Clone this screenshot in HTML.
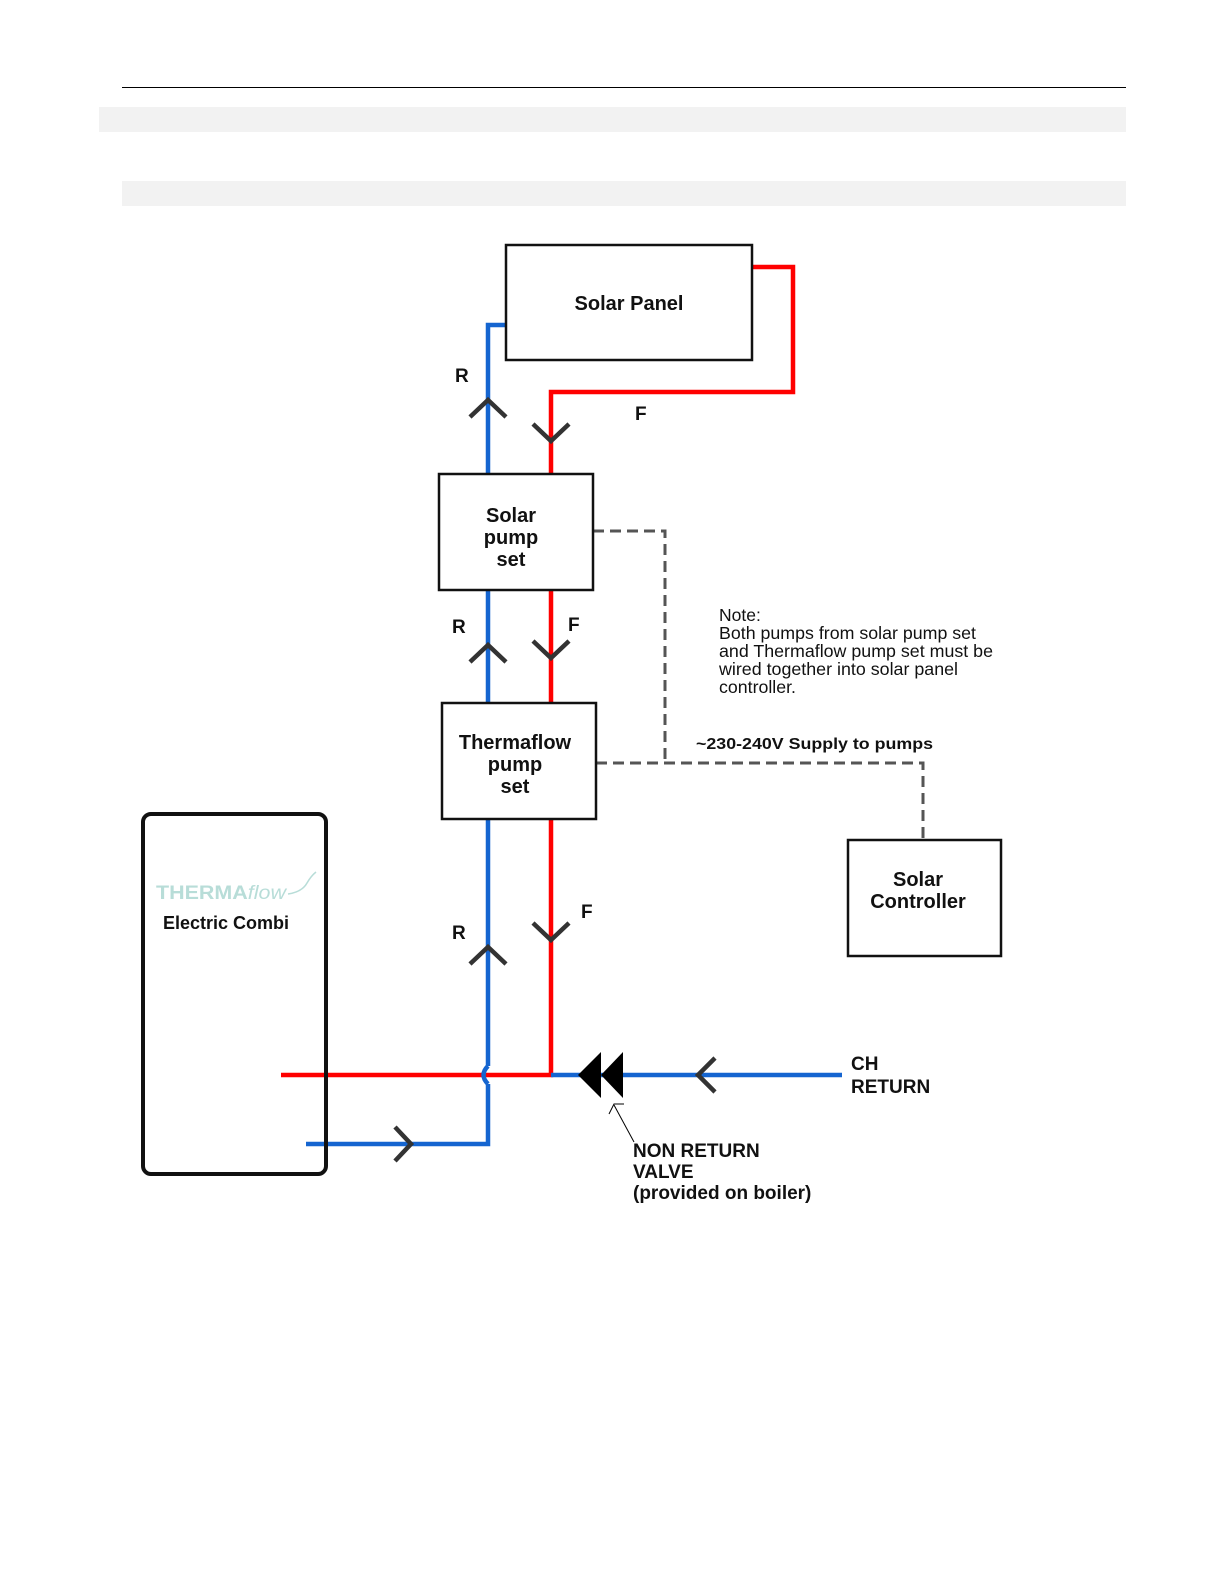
<!DOCTYPE html>
<html><head><meta charset="utf-8"><style>
html,body{margin:0;padding:0;background:#fff;overflow:hidden;width:1224px;height:1584px;}
svg{display:block;font-family:"Liberation Sans",sans-serif;}
</style></head><body>
<svg width="1224" height="1584" viewBox="0 0 1224 1584" xmlns="http://www.w3.org/2000/svg">
<rect x="122" y="87" width="1004" height="1" fill="#000"/>
<rect x="99" y="107" width="1027" height="25" fill="#f2f2f2"/>
<rect x="122" y="181" width="1004" height="25" fill="#f2f2f2"/>

<g fill="none" stroke-width="4.5">
<polyline points="752,267 793,267 793,392 551,392 551,474" stroke="#ff0000"/>
<polyline points="506,325 488,325 488,474" stroke="#1565d0"/>
<line x1="551" y1="590" x2="551" y2="703" stroke="#ff0000"/>
<line x1="488" y1="590" x2="488" y2="703" stroke="#1565d0"/>
<polyline points="551,819 551,1075 281,1075" stroke="#ff0000"/>
<polyline points="488,819 488,1066" stroke="#1565d0"/>
<path d="M488,1066 Q479,1075 488,1084" stroke="#1565d0"/>
<polyline points="488,1084 488,1144 306,1144" stroke="#1565d0"/>
<line x1="551" y1="1075" x2="842" y2="1075" stroke="#1565d0"/>
</g>

<g fill="none" stroke="#333" stroke-width="4.5">
<polyline points="470,417 488,400 506,417"/>
<polyline points="533,424 551,441 569,424"/>
<polyline points="470,662 488,645 506,662"/>
<polyline points="533,641 551,658 569,641"/>
<polyline points="470,964 488,947 506,964"/>
<polyline points="533,923 551,940 569,923"/>
<polyline points="715,1058 698,1075 715,1092"/>
<polyline points="395,1127 411,1144 395,1161"/>
</g>

<polygon points="578,1075 601,1052 601,1098" fill="#000"/>
<polygon points="601,1075 623,1052 623,1098" fill="#000"/>
<line x1="634" y1="1142" x2="614" y2="1105" stroke="#000" stroke-width="1"/>
<polyline points="609,1114 614,1104 624,1104" fill="none" stroke="#000" stroke-width="1"/>

<g fill="none" stroke="#555" stroke-width="3" stroke-dasharray="11,6">
<polyline points="593,531 665,531 665,763"/>
<polyline points="596,763 923,763 923,840"/>
</g>

<g fill="#fff" stroke="#111" stroke-width="2.5">
<rect x="506" y="245" width="246" height="115"/>
<rect x="439" y="474" width="154" height="116"/>
<rect x="442" y="703" width="154" height="116"/>
<rect x="848" y="840" width="153" height="116"/>
</g>
<rect x="143" y="814" width="183" height="360" rx="8" fill="none" stroke="#111" stroke-width="4"/>

<g font-weight="bold" fill="#111" font-size="20" text-anchor="middle">
<text x="629" y="310">Solar Panel</text>
<text x="511" y="522">Solar</text>
<text x="511" y="544">pump</text>
<text x="511" y="566">set</text>
<text x="515" y="749">Thermaflow</text>
<text x="515" y="771">pump</text>
<text x="515" y="793">set</text>
<text x="918" y="886">Solar</text>
<text x="918" y="908">Controller</text>
</g>
<g font-weight="bold" fill="#111" font-size="19">
<text x="455" y="382">R</text>
<text x="635" y="420">F</text>
<text x="452" y="633">R</text>
<text x="568" y="631">F</text>
<text x="452" y="939">R</text>
<text x="581" y="918">F</text>
<text x="851" y="1070">CH</text>
<text x="851" y="1093">RETURN</text>
<text x="633" y="1157">NON RETURN</text>
<text x="633" y="1178">VALVE</text>
<text x="633" y="1199">(provided on boiler)</text>
<text x="163" y="929" font-size="18">Electric Combi</text>
<text x="696" y="749" font-size="16" textLength="237" lengthAdjust="spacingAndGlyphs">~230-240V Supply to pumps</text>
</g>
<g font-size="17.5" fill="#111">
<text x="719" y="621">Note:</text>
<text x="719" y="639" textLength="257" lengthAdjust="spacingAndGlyphs">Both pumps from solar pump set</text>
<text x="719" y="657" textLength="274" lengthAdjust="spacingAndGlyphs">and Thermaflow pump set must be</text>
<text x="719" y="675" textLength="239" lengthAdjust="spacingAndGlyphs">wired together into solar panel</text>
<text x="719" y="693" textLength="77" lengthAdjust="spacingAndGlyphs">controller.</text>
</g>
<text x="156" y="899" font-size="19" font-weight="bold" fill="#b8ddd8" textLength="130" lengthAdjust="spacingAndGlyphs">THERMA<tspan font-weight="normal" font-style="italic">flow</tspan></text>
<path d="M288,894 Q302,892 307,883 Q311,876 316,872" fill="none" stroke="#b8ddd8" stroke-width="1.5"/>
</svg>
</body></html>
